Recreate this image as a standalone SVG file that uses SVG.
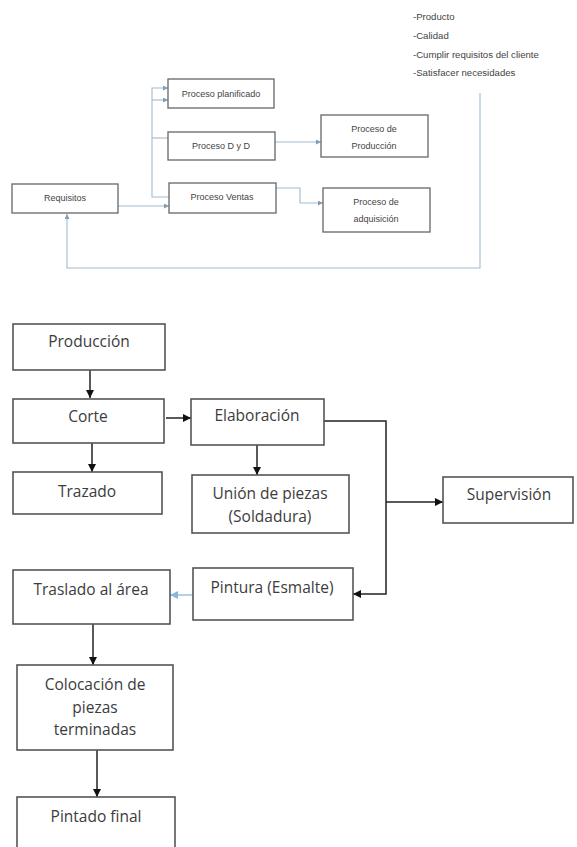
<svg xmlns="http://www.w3.org/2000/svg" width="577" height="847" viewBox="0 0 577 847">
<style>
.tb{fill:#fff;stroke:#666;stroke-width:1.3}
.tt{font-family:"Liberation Sans",Arial,sans-serif;font-size:9px;fill:#444;text-anchor:middle}
.lt{font-family:"Liberation Sans",Arial,sans-serif;font-size:9.6px;fill:#444}
.tc{fill:none;stroke:#9dbbd2;stroke-width:1.1}
.bb{fill:#fff;stroke:#555;stroke-width:1.6}
.bt{font-family:"Open Sans","Noto Sans",sans-serif;font-size:15.5px;fill:#3c3c3c;text-anchor:middle}
.bc{fill:none;stroke:#222;stroke-width:1.5}
.blue{fill:none;stroke:#9cc0de;stroke-width:1.5}
</style>
<defs>
<marker id="sa" viewBox="0 0 10 10" refX="10" refY="5" markerWidth="5" markerHeight="5" markerUnits="userSpaceOnUse" orient="auto"><path d="M0,0 L10,5 L0,10 Z" fill="#7f9db5"/></marker>
<marker id="ba" viewBox="0 0 10 10" refX="10" refY="5" markerWidth="8" markerHeight="8" markerUnits="userSpaceOnUse" orient="auto"><path d="M0,0 L10,5 L0,10 Z" fill="#111"/></marker>
<marker id="la" viewBox="0 0 10 10" refX="10" refY="5" markerWidth="8" markerHeight="8" markerUnits="userSpaceOnUse" orient="auto"><path d="M0,0 L10,5 L0,10 Z" fill="#8ab6dc"/></marker>
</defs>
<rect width="577" height="847" fill="#fff"/>

<g id="lista">
<text class="lt" x="413" y="20">-Producto</text>
<text class="lt" x="413" y="39">-Calidad</text>
<text class="lt" x="413" y="58">-Cumplir requisitos del cliente</text>
<text class="lt" x="413" y="76">-Satisfacer necesidades</text>
</g>

<g id="connectors">
<path class="tc" d="M118,206 H169" marker-end="url(#sa)"/>
<path class="tc" d="M169,197 H152 V88 H168" marker-end="url(#sa)"/>
<path class="tc" d="M152,100 H168" marker-end="url(#sa)"/>
<path class="tc" d="M168,138 H152"/>
<path class="tc" d="M275,142 H321" marker-end="url(#sa)"/>
<path class="tc" d="M276,188 H300 V203 H323" marker-end="url(#sa)"/>
<path class="tc" d="M480,93 V268 H67 V214" marker-end="url(#sa)"/>

<path class="bc" d="M90,370 V398" marker-end="url(#ba)"/>
<path class="bc" d="M92,443 V472" marker-end="url(#ba)"/>
<path class="bc" d="M166,418 H191" marker-end="url(#ba)"/>
<path class="bc" d="M257,445 V475" marker-end="url(#ba)"/>
<path class="bc" d="M324,421 H386 V594 H353" marker-end="url(#ba)"/>
<path class="bc" d="M386,502 H443" marker-end="url(#ba)"/>
<path class="blue" d="M193,595 H170" marker-end="url(#la)"/>
<path class="bc" d="M93,624 V665" marker-end="url(#ba)"/>
<path class="bc" d="M97,750 V797" marker-end="url(#ba)"/>
</g>

<g id="proceso-planificado"><rect class="tb" x="168" y="79" width="106" height="29"/><text class="tt" x="221" y="97">Proceso planificado</text></g>
<g id="proceso-dyd"><rect class="tb" x="168" y="132" width="107" height="28"/><text class="tt" x="221" y="149">Proceso D y D</text></g>
<g id="proceso-produccion"><rect class="tb" x="321" y="115" width="107" height="42"/><text class="tt" x="374" y="132">Proceso de</text><text class="tt" x="374" y="149">Producción</text></g>
<g id="requisitos"><rect class="tb" x="12" y="184" width="106" height="29"/><text class="tt" x="65" y="201">Requisitos</text></g>
<g id="proceso-ventas"><rect class="tb" x="169" y="183" width="107" height="30"/><text class="tt" x="222" y="200">Proceso Ventas</text></g>
<g id="proceso-adquisicion"><rect class="tb" x="323" y="188" width="107" height="44"/><text class="tt" x="376" y="205">Proceso de</text><text class="tt" x="376" y="222">adquisición</text></g>

<g id="produccion"><rect class="bb" x="13" y="324" width="152" height="46"/><text class="bt" x="89" y="347">Producción</text></g>
<g id="corte"><rect class="bb" x="13" y="399" width="151" height="44"/><text class="bt" x="88" y="422">Corte</text></g>
<g id="trazado"><rect class="bb" x="13" y="472" width="149" height="42"/><text class="bt" x="87" y="497">Trazado</text></g>
<g id="elaboracion"><rect class="bb" x="191" y="399" width="133" height="46"/><text class="bt" x="257" y="421">Elaboración</text></g>
<g id="union"><rect class="bb" x="192" y="475" width="157" height="58"/><text class="bt" x="270" y="499">Unión de piezas</text><text class="bt" x="270" y="522">(Soldadura)</text></g>
<g id="supervision"><rect class="bb" x="443" y="477" width="130" height="46"/><text class="bt" x="509" y="500">Supervisión</text></g>
<g id="pintura"><rect class="bb" x="193" y="568" width="160" height="52"/><text class="bt" x="272" y="593">Pintura (Esmalte)</text></g>
<g id="traslado"><rect class="bb" x="13" y="570" width="157" height="54"/><text class="bt" x="91" y="595">Traslado al área</text></g>
<g id="colocacion"><rect class="bb" x="17" y="665" width="156" height="85"/><text class="bt" x="95" y="690">Colocación de</text><text class="bt" x="95" y="713">piezas</text><text class="bt" x="95" y="735">terminadas</text></g>
<g id="pintado-final"><rect class="bb" x="17" y="797" width="158" height="62"/><text class="bt" x="96" y="822">Pintado final</text></g>
</svg>
